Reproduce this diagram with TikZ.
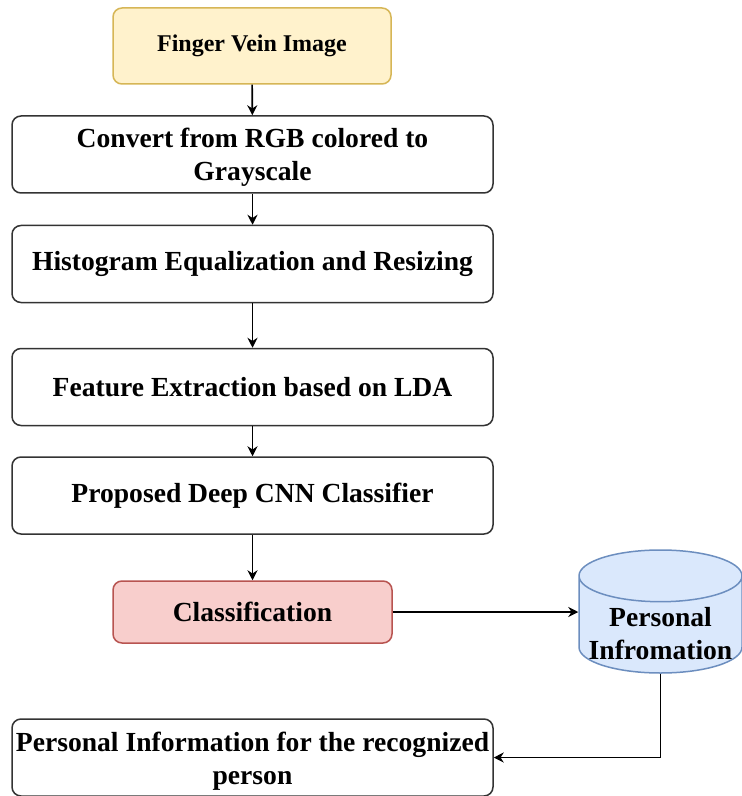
\documentclass[tikz,border=0pt]{standalone}
\usepackage{fontspec}
\setmainfont{Liberation Serif}
\usetikzlibrary{positioning,arrows.meta,shapes.geometric}
\definecolor{VeinYellow}{RGB}{255,242,204}
\definecolor{VeinLine}{RGB}{214,182,86}
\definecolor{ClsRed}{RGB}{248,206,204}
\definecolor{ClsLine}{RGB}{184,84,80}
\definecolor{DbBlue}{RGB}{218,232,252}
\definecolor{DbLine}{RGB}{108,142,191}
% two centred lines, nudged down a little
\newcommand{\twolines}[3][-1.7pt]{\raisebox{#1}[\height][\depth]{\begin{tabular}{@{}c@{}}#2\\#3\end{tabular}}}
\tikzset{
  box/.style={rectangle,rounded corners=4.5pt,draw=black!80,fill=white,line width=0.75pt,inner sep=0pt,
    align=center,font=\fontsize{13.8}{16.5}\selectfont\bfseries},
  wide/.style={box,minimum width=240.5pt,minimum height=38.5pt},
  src/.style={box,fill=VeinYellow,draw=VeinLine,minimum width=139pt,minimum height=38pt,
    font=\fontsize{12}{14}\selectfont\bfseries},
  cls/.style={box,fill=ClsRed,draw=ClsLine,minimum width=139.5pt,minimum height=31pt},
}
\tikzset{db/.style={cylinder,shape border rotate=90,aspect=0.36,draw=DbLine,line width=0.75pt,
    cylinder uses custom fill,cylinder body fill=DbBlue,cylinder end fill=DbBlue,inner sep=0pt,
    minimum width=81.5pt,minimum height=61.5pt,font=\fontsize{13.8}{16.5}\selectfont\bfseries},
  flow/.style={draw=black,line width=0.8pt,-{Stealth[length=5pt,width=5pt]}}}

\begin{document}
\begin{tikzpicture}[x=0.5pt,y=-0.5pt]
\useasboundingbox[fill=white] (0,0) rectangle (742,796);
\node[src] (fvimg) at (252,46) {Finger Vein Image};
\node[wide] (convert) at (252.5,154.5) {\twolines{Convert from RGB colored to}{Grayscale}};
\node[wide] (histeq) at (252.5,264) {Histogram Equalization and Resizing};
\node[wide] (featx) at (252.5,387) {Feature Extraction based on LDA};
\node[wide] (cnn) at (252.5,495.5) {Proposed Deep CNN Classifier};
\node[cls] (classif) at (252.5,612) {Classification};
\node[db,anchor=shape center] (pinfo) at (660.5,611.5) {\raisebox{-9.2pt}[0pt][0pt]{\begin{tabular}{@{}c@{}}Personal\\Infromation\end{tabular}}};
\node[wide] (result) at (252.5,757.5) {\twolines{Personal Information for the recognized}{person}};
\draw[flow] (fvimg) -- (convert);
\draw[flow] (convert) -- (histeq);
\draw[flow] (histeq) -- (featx);
\draw[flow] (featx) -- (cnn);
\draw[flow] (cnn) -- (classif);
\draw[flow] (classif.east) -- (classif.east -| pinfo.west);
\draw[flow] (pinfo.south) |- (result.east);
\end{tikzpicture}
\end{document}
